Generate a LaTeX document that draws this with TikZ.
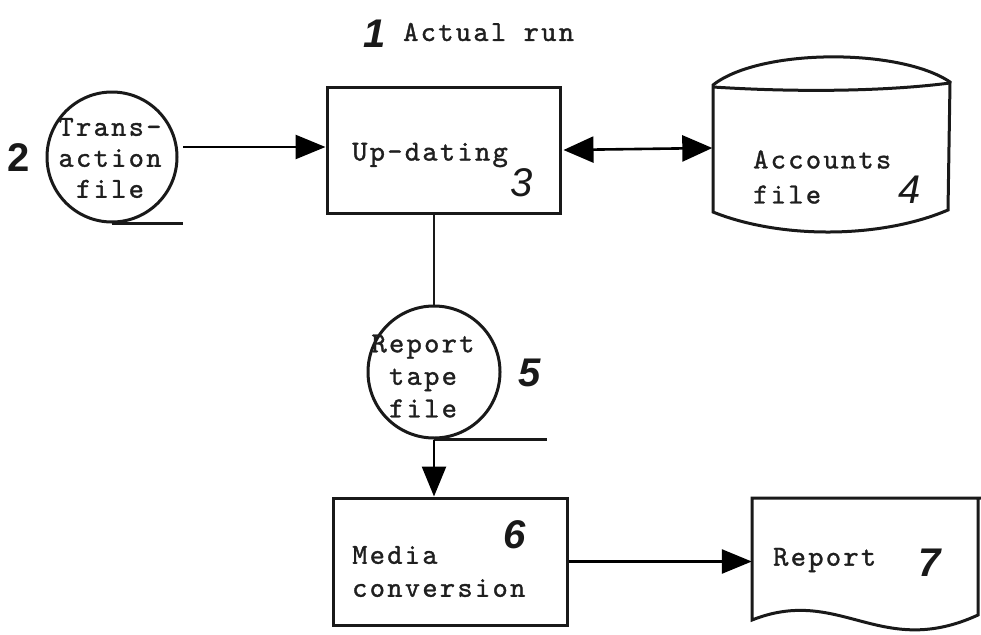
\documentclass[tikz,border=0pt]{standalone}
\usepackage{fontspec}
\usetikzlibrary{arrows.meta}
\newfontfamily\tw{lmmono10-regular}[Extension=.otf,LetterSpace=8,FakeBold=1.2]
\newfontfamily\hand{Liberation Sans}
\begin{document}
\begin{tikzpicture}[x=1pt,y=-1pt,
  ink/.style={line width=3pt,draw=black!90},
  thin/.style={line width=2.2pt,draw=black!90},
  fbox/.style={ink,rectangle,inner sep=0pt},
  tapefile/.style={ink,circle,inner sep=0pt,minimum size=130pt},
  ghost/.style={inner sep=0pt},
  txt/.style={inner sep=0pt,text=black!88,font=\tw\fontsize{29}{33}\selectfont},
  num/.style={inner sep=0pt,text=black!90,font=\hand\bfseries\itshape\fontsize{40}{40}\selectfont},
  numthin/.style={inner sep=0pt,text=black!90,font=\hand\itshape\fontsize{40}{40}\selectfont},
  arr/.style={line width=2.6pt,-{Triangle[length=30pt,width=24pt]}},
  dblarr/.style={line width=2.6pt,{Triangle[length=30pt,width=26pt]}-{Triangle[length=30pt,width=26pt]}}]

\useasboundingbox[fill=white] (0,0) rectangle (981,634);

% heading
\node[num,anchor=center] (n1) at (375,34) {1};
\node[txt,anchor=west] (title) at (403,32) {Actual run};

% transaction file (tape symbol)
\node[tapefile] (tr) at (112,157) {};
\node[txt,align=center,font=\tw\fontsize{29}{31}\selectfont] (trtext) at (110,158) {Trans-\\action\\file};
\coordinate (trtail) at (183,221);
\draw[thin] (tr.south) -- (tr.south -| trtail);
\node[num,font=\hand\bfseries\fontsize{40}{40}\selectfont] (n2) at (19,158) {2};

% up-dating process
\node[fbox,minimum width=233pt,minimum height=126pt] (up) at (443.5,150) {};
\node[txt] (uptext) at (430,155) {Up-dating};
\node[numthin] (n3) at (522,183) {3};

% accounts file (disc symbol)
\node[ghost,minimum width=237pt,minimum height=150pt] (acc) at (831,148) {};
\draw[ink] (713,85) .. controls (760,48) and (900,48) .. (950,82)
           -- (948,210) .. controls (880,239) and (780,239) .. (713,212) -- cycle;
\draw[ink] (713,87) .. controls (790,92) and (880,92) .. (950,83);
\node[txt,anchor=west,align=left,font=\tw\fontsize{29}{35}\selectfont] (acctext) at (753,177) {Accounts\\file};
\node[numthin] (n4) at (910,190) {4};

\coordinate (uptr) at (183,147);
\draw[arr] (uptr) -- (uptr -| up.west);
\draw[dblarr] ([xshift=2pt]up.east) -- (acc.west);

% report tape file
\node[tapefile,minimum size=132pt] (rt) at (434,372) {};
\node[txt,align=center,font=\tw\fontsize{29}{32.5}\selectfont] (rttext) at (423,376) {Report\\tape\\file};
\coordinate (rttail) at (547,438);
\draw[thin] (rt.south) -- (rt.south -| rttail);
\node[num] (n5) at (530,373) {5};
\draw[line width=1.8pt,draw=black!90] (rt.north |- up.south) -- (rt.north);

% media conversion
\node[fbox,minimum width=234pt,minimum height=127pt] (mc) at (450,561.5) {};
\node[txt,anchor=west,align=left] (mctext) at (352,571.5) {Media\\conversion};
\node[num] (n6) at (515,535) {6};
\draw[arr] (rt.south) -- (rt.south |- mc.north);

% printed report (document symbol)
\node[ghost,minimum width=226pt,minimum height=120pt] (rep) at (865,557) {};
\draw[ink] (981,498) -- (752,498) -- (752,620)
           .. controls (840,585) and (880,660) .. (978,615) -- (978,498);
\node[txt,anchor=west] (reptext) at (773,560) {Report};
\node[num] (n7) at (930,563) {7};
\draw[arr] (mc.east) -- (mc.east -| rep.west);
\end{tikzpicture}
\end{document}
